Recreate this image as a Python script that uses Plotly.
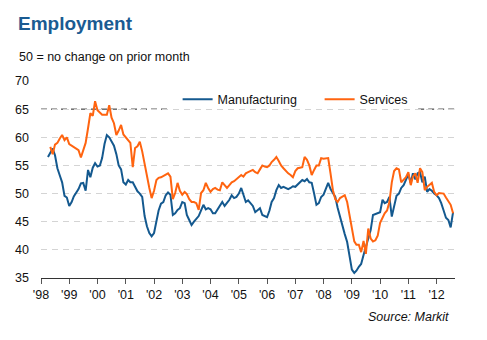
import pandas as pd
import plotly.graph_objects as go

# Employment PMI readings, monthly
manufacturing_start = "1998-04-01"
manufacturing = [
    # 1998 Apr-Dec
    56.5, 57.3, 58.0, 56.8, 54.5, 53.2, 52.0, 49.6, 49.3,
    # 1999
    47.8, 48.5, 49.5, 50.2, 50.8, 51.8, 51.9, 50.5, 54.2, 52.9, 54.6, 55.4,
    # 2000
    54.8, 55.0, 56.3, 58.8, 60.4, 60.0, 59.2, 58.5, 57.0, 55.0, 54.3, 52.0,
    # 2001
    51.6, 52.4, 52.0, 52.0, 51.2, 50.4, 50.0, 49.4, 46.0, 44.2, 43.0, 42.4,
    # 2002
    43.0, 45.0, 47.0, 48.2, 48.5, 49.7, 50.2, 49.8, 46.2, 46.5, 47.1, 47.4,
    # 2003
    48.5, 48.3, 46.2, 45.3, 44.4, 45.0, 45.5, 46.0, 47.0, 48.0, 47.2, 47.4,
    # 2004
    47.2, 46.5, 46.5, 47.2, 48.0, 48.5, 47.8, 48.3, 48.9, 49.7, 49.2, 49.4,
    # 2005
    50.0, 51.0, 49.7, 48.5, 48.8, 48.3, 47.8, 46.7, 47.0, 47.4, 46.2, 46.0,
    # 2006
    45.8, 47.0, 48.5, 49.2, 50.6, 51.5, 51.0, 51.2, 51.0, 50.8, 51.0, 51.3,
    # 2007
    51.2, 51.6, 52.0, 52.4, 52.2, 52.6, 52.0, 51.9, 50.0, 48.0, 48.3, 49.4,
    # 2008
    49.8, 51.0, 51.9, 50.8, 50.0, 49.4, 47.5, 45.8, 44.3, 42.8, 41.4, 39.0,
    # 2009
    36.5, 35.9, 36.3, 37.0, 37.5, 39.1, 40.5, 41.8, 43.5, 46.2, 46.4, 46.6,
    # 2010
    46.7, 48.9, 48.3, 48.5, 49.4, 45.9, 47.5, 49.6, 50.0, 51.0, 51.5, 52.4,
    # 2011
    53.4, 51.9, 53.6, 52.5, 53.6, 53.8, 52.0, 53.0, 50.3, 50.8, 50.5, 50.0,
    # 2012 Jan-Aug
    49.7, 49.2, 48.3, 47.0, 45.7, 45.3, 44.0, 46.7,
]

services_start = "1998-05-01"
services = [
    # 1998 May-Dec
    58.3, 57.0, 58.7, 59.0, 59.8, 60.4, 59.5, 60.0,
    # 1999
    58.8, 58.5, 58.2, 57.9, 57.7, 56.4, 57.5, 59.0, 61.6, 64.3, 63.8, 66.4,
    # 2000
    64.8, 64.3, 64.0, 64.0, 64.0, 65.7, 63.5, 62.5, 60.4, 61.2, 62.2, 60.5,
    # 2001
    60.0, 59.6, 59.0, 54.7, 58.1, 58.4, 59.2, 57.5, 55.2, 52.9, 51.0, 49.2,
    # 2002
    50.5, 52.4, 52.8, 52.9, 53.1, 53.3, 53.6, 53.0, 49.0, 50.1, 51.9, 50.5,
    # 2003
    49.8, 50.3, 49.9, 49.0, 48.5, 48.5, 48.3, 47.1, 50.1, 50.6, 51.9, 51.0,
    # 2004
    50.3, 50.8, 51.0, 50.7, 50.6, 52.0, 51.4, 51.0, 51.5, 52.0, 52.2, 52.6,
    # 2005
    53.0, 53.3, 53.0, 53.6, 53.8, 54.0, 54.2, 53.8, 53.6, 54.3, 55.0, 54.8,
    # 2006
    54.7, 55.0, 55.6, 56.0, 56.5, 55.8, 55.0, 54.5, 54.0, 53.6, 53.3, 52.9,
    # 2007
    54.0, 54.5, 54.6, 54.7, 56.5, 56.0, 55.0, 53.3, 54.2, 55.0, 55.0, 56.3,
    # 2008
    56.2, 56.3, 56.3, 53.5, 50.6, 49.0, 48.5, 49.2, 49.4, 49.7, 48.5, 46.0,
    # 2009
    43.9, 41.5, 40.9, 40.9, 39.6, 41.6, 39.3, 43.8, 42.0, 41.5, 41.7, 42.5,
    # 2010
    44.8, 45.8, 46.5, 47.0, 48.5, 52.0, 54.0, 54.5, 54.3, 52.0, 52.4, 52.9,
    # 2011
    53.8, 51.5, 53.0, 53.6, 51.9, 54.5, 53.8, 50.6, 51.2, 51.5, 51.9, 50.3,
    # 2012 Jan-Aug
    49.7, 50.1, 50.1, 50.0, 49.3, 48.6, 48.0, 46.5,
]

year_ticks = [f"{y}-01-01" for y in range(1998, 2013)]
year_labels = ["'98", "'99", "'00", "'01", "'02", "'03", "'04", "'05",
               "'06", "'07", "'08", "'09", "'10", "'11", "'12"]
y_ticks = [35, 40, 45, 50, 55, 60, 65, 70]

manu_dates = pd.date_range(manufacturing_start, periods=len(manufacturing), freq="MS")
serv_dates = pd.date_range(services_start, periods=len(services), freq="MS")

BLUE = "#14598f"
ORANGE = "#ff6410"
FONT = "Arial, Liberation Sans, sans-serif"

fig = go.Figure()
fig.add_trace(go.Scatter(x=manu_dates, y=manufacturing, mode="lines",
                         name="Manufacturing", line=dict(color=BLUE, width=2)))
fig.add_trace(go.Scatter(x=serv_dates, y=services, mode="lines",
                         name="Services", line=dict(color=ORANGE, width=2)))

# darker dashed reference at 65, broken where the legend sits
for x0, x1 in [(0, 0.307), (0.911, 1)]:
    fig.add_shape(type="line", xref="paper", yref="y", x0=x0, x1=x1, y0=65, y1=65,
                  line=dict(color="#222222", width=1, dash="6px,4px"), layer="below")

fig.update_layout(
    width=487, height=340,
    margin=dict(l=41, r=32, t=81, b=62),
    paper_bgcolor="white", plot_bgcolor="white",
    font=dict(family=FONT, size=12, color="#111111"),
    showlegend=True,
    legend=dict(orientation="h", x=0.33, xanchor="left", y=0.905, yanchor="middle",
                bgcolor="rgba(0,0,0,0)", font=dict(size=12.5, color="#111111"),
                itemwidth=30, traceorder="normal",
                entrywidth=97, entrywidthmode="pixels"),
    xaxis=dict(
        range=["1998-01-01", "2012-08-26"],
        tickvals=year_ticks, ticktext=year_labels,
        showgrid=False, zeroline=False,
        showline=True, linecolor="#333333", linewidth=1,
        ticks="outside", ticklen=5, tickcolor="#555555",
        tickfont=dict(size=12.5),
    ),
    yaxis=dict(
        range=[35, 70], tickvals=y_ticks,
        showgrid=True, gridcolor="#d4d4d4", griddash="6px,5px", gridwidth=1,
        zeroline=False, showline=False, ticks="",
        ticklabelstandoff=11,
        tickfont=dict(size=12.5),
    ),
    annotations=[
        dict(text="<b>Employment</b>", xref="paper", yref="paper", x=-0.06, y=1.294,
             xanchor="left", yanchor="middle", showarrow=False,
             font=dict(size=19, color="#1a5b92", family=FONT)),
        dict(text="50 = no change on prior month", xref="paper", yref="paper",
             x=-0.058, y=1.122, xanchor="left", yanchor="middle", showarrow=False,
             font=dict(size=12.5, color="#111111", family=FONT)),
        dict(text="<i>Source: Markit</i>", xref="paper", yref="paper",
             x=0.99, y=-0.198, xanchor="right", yanchor="middle", showarrow=False,
             font=dict(size=12.5, color="#111111", family=FONT)),
    ],
)

fig.write_html("out.html")
